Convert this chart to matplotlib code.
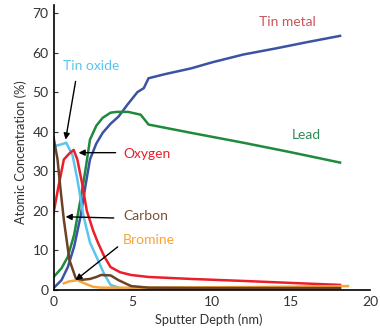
import numpy as np
import matplotlib.pyplot as plt

plt.rcParams['font.family'] = ['Lato', 'DejaVu Sans']

# Tin metal
sn_x = [0, 0.5, 0.9, 1.3, 1.7, 2.0, 2.3, 2.7, 3.1, 3.6, 4.1, 4.7, 5.3, 5.7, 6.0, 7.0, 8.7, 10.0, 12.0, 14.0, 16.0, 18.1]
sn_y = [0.5, 2.5, 5.8, 11.0, 18.5, 26.0, 33.0, 37.0, 39.7, 42.0, 43.8, 47.0, 50.0, 51.0, 53.5, 54.5, 56.0, 57.5, 59.5, 61.0, 62.6, 64.2]

# Lead
pb_x = [0, 0.5, 0.9, 1.3, 1.7, 2.0, 2.3, 2.7, 3.1, 3.6, 4.0, 4.7, 5.5, 6.0, 8.7, 12.0, 15.0, 18.1]
pb_y = [3.3, 5.5, 8.4, 14.0, 22.8, 30.0, 38.0, 41.5, 43.5, 44.8, 45.0, 45.0, 44.3, 41.8, 39.7, 37.2, 34.8, 32.2]

# Tin oxide
ox_sn_x = [0.2, 0.5, 0.8, 1.2, 1.5, 1.9, 2.3, 2.8, 3.2, 3.6, 4.2, 5.0, 7.0, 10.0, 14.0, 18.1]
ox_sn_y = [36.5, 36.8, 37.2, 34.0, 28.0, 18.5, 12.0, 7.6, 4.0, 1.3, 0.5, 0.3, 0.2, 0.2, 0.2, 0.2]

# Oxygen
o_x = [0, 0.3, 0.65, 1.0, 1.27, 1.5, 1.8, 2.1, 2.5, 2.8, 3.2, 3.6, 4.2, 4.9, 6.0, 8.7, 12.0, 15.0, 18.1]
o_y = [19.5, 26.0, 33.0, 34.5, 35.4, 33.0, 27.0, 20.0, 15.0, 12.0, 8.5, 5.8, 4.5, 3.8, 3.3, 2.8, 2.3, 1.8, 1.3]

# Carbon
c_x = [0, 0.25, 0.45, 0.65, 1.0, 1.4, 1.8, 2.3, 2.7, 3.0, 3.6, 4.1, 4.9, 6.0, 10.0, 14.0, 18.1]
c_y = [38.5, 33.0, 25.0, 17.7, 7.6, 3.0, 2.6, 2.8, 3.3, 3.8, 3.7, 2.5, 1.0, 0.6, 0.5, 0.5, 0.5]

# Bromine
br_x = [0.65, 1.0, 1.5, 2.0, 2.5, 3.0, 4.0, 6.0, 10.0, 14.0, 18.6]
br_y = [1.7, 2.2, 2.5, 1.6, 0.8, 0.6, 0.6, 0.6, 0.7, 0.8, 1.0]

fig = plt.figure(figsize=(3.8, 3.33), dpi=100)
ax = fig.add_axes([0.141, 0.129, 0.833, 0.856])

ax.plot(sn_x, sn_y, color='#3A53A4', lw=1.8)
ax.plot(pb_x, pb_y, color='#1E8A3C', lw=1.8)
ax.plot(ox_sn_x, ox_sn_y, color='#5BC5F0', lw=1.8)
ax.plot(o_x, o_y, color='#EC1E28', lw=1.8)
ax.plot(br_x, br_y, color='#F7A43A', lw=1.8)
ax.plot(c_x, c_y, color='#6B4226', lw=1.8)

ax.set_xlim(0, 20)
ax.set_ylim(0, 72)
ax.set_xticks([0, 5, 10, 15, 20])
ax.set_yticks(np.arange(0, 71, 10))
ax.tick_params(axis='y', direction='in', length=3, labelsize=10, colors='#333333')
ax.tick_params(axis='x', length=0, labelsize=10, colors='#333333', pad=4)
for s in ['top', 'right']:
    ax.spines[s].set_visible(False)
for s in ['left', 'bottom']:
    ax.spines[s].set_linewidth(1.2)

ax.set_xlabel('Sputter Depth (nm)', fontsize=9.2, color='#333333', va='center')
ax.set_ylabel('Atomic Concentration (%)', fontsize=9.2, color='#333333', va='center')
ax.xaxis.set_label_coords(0.49, -0.105)
ax.yaxis.set_label_coords(-0.104, 0.484)

ax.text(14.8, 67.8, 'Tin metal', color='#C8565A', fontsize=10, ha='center', va='center')
ax.text(16.0, 39.2, 'Lead', color='#2E8B57', fontsize=10, ha='center', va='center')
ax.text(2.4, 56.5, 'Tin oxide', color='#5BC5F0', fontsize=10, ha='center', va='center')
ax.text(4.4, 34.4, 'Oxygen', color='#EC1E28', fontsize=10, ha='left', va='center')
ax.text(4.4, 18.7, 'Carbon', color='#7B5137', fontsize=10, ha='left', va='center')
ax.text(4.4, 12.7, 'Bromine', color='#F7A43A', fontsize=10, ha='left', va='center')

arrows = [((1.39, 52.7), (0.76, 38.0)),
          ((3.92, 34.7), (1.58, 34.7)),
          ((3.8, 18.2), (0.76, 18.5)),
          ((4.05, 10.9), (1.39, 2.5))]
for tail, head in arrows:
    ax.annotate('', xy=head, xytext=tail,
                arrowprops=dict(arrowstyle='-|>', color='black', lw=1.0,
                                mutation_scale=9, shrinkA=0, shrinkB=0))

fig.savefig('out.png', dpi=100)
